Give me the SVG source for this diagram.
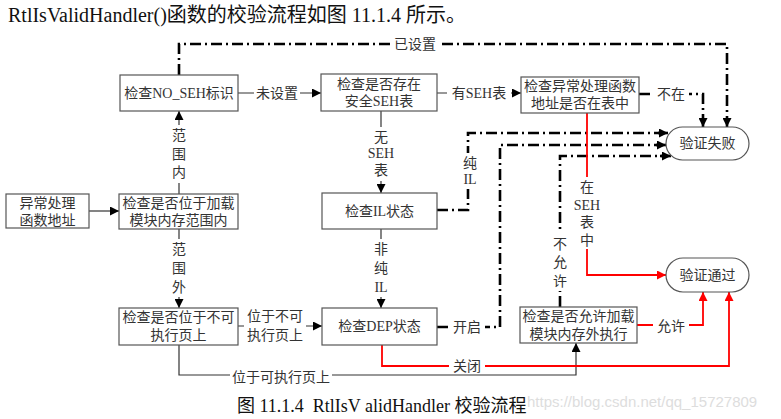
<svg xmlns="http://www.w3.org/2000/svg" width="781" height="419" viewBox="0 0 781 419">
<style>
text{font-family:"Liberation Serif","Noto Sans CJK SC",serif;fill:#333;}
.t{font-size:14px;text-anchor:middle;dominant-baseline:central;}
.box{fill:#fff;stroke:#555;stroke-width:1.2;}
.solid{fill:none;stroke:#333;stroke-width:1.2;}
.dd{fill:none;stroke:#000;stroke-width:2.6;stroke-dasharray:11 4 2 4;}
.red{fill:none;stroke:#f00;stroke-width:1.8;}
.bg{fill:#fff;stroke:none;}
</style>
<defs>
<marker id="ab" viewBox="0 0 10 10" refX="10" refY="5" markerWidth="9" markerHeight="9" markerUnits="userSpaceOnUse" orient="auto"><path d="M0,0 L10,5 L0,10 z" fill="#000"/></marker>
<marker id="ar" viewBox="0 0 10 10" refX="10" refY="5" markerWidth="9" markerHeight="9" markerUnits="userSpaceOnUse" orient="auto"><path d="M0,0 L10,5 L0,10 z" fill="#f00"/></marker>
</defs>

<text x="8" y="22" style="font-size:20px;fill:#111">RtlIsValidHandler()函数的校验流程如图 11.1.4 所示。</text>

<g id="connectors">
  <!-- solid gray -->
  <path class="solid" d="M89,211 H119" marker-end="url(#ab)"/>
  <path class="solid" d="M179,194 V111" marker-end="url(#ab)"/>
  <path class="solid" d="M179,229 V308" marker-end="url(#ab)"/>
  <path class="solid" d="M238,93 H321" marker-end="url(#ab)"/>
  <path class="solid" d="M437,93 H521" marker-end="url(#ab)"/>
  <path class="solid" d="M381,111 V193" marker-end="url(#ab)"/>
  <path class="solid" d="M381,229 V308" marker-end="url(#ab)"/>
  <path class="solid" d="M238,326 H322" marker-end="url(#ab)"/>
  <path class="solid" d="M179,345 V375 H576 V343" marker-end="url(#ab)"/>
  <!-- dash-dot black -->
  <path class="dd" d="M179,75 V44 H727 V119"/>
  <path d="M727,118 V127" stroke="#000" stroke-width="2.6" marker-end="url(#ab)"/>
  <path class="dd" d="M639,94 H703 V119"/>
  <path d="M703,118 V127" stroke="#000" stroke-width="2.6" marker-end="url(#ab)"/>
  <path class="dd" d="M437,210 H468 V133 H660"/>
  <path d="M658,133 H668" stroke="#000" stroke-width="2.6" marker-end="url(#ab)"/>
  <path class="dd" d="M437,327 H500 V145 H658"/>
  <path d="M656,145 H666" stroke="#000" stroke-width="2.6" marker-end="url(#ab)"/>
  <path class="dd" d="M560,307 V156 H662"/>
  <path d="M660,156 H671" stroke="#000" stroke-width="2.6" marker-end="url(#ab)"/>
  <!-- red -->
  <path class="red" d="M587,113 V275 H666" marker-end="url(#ar)"/>
  <path class="red" d="M637,325 H703 V292" marker-end="url(#ar)"/>
  <path class="red" d="M382,345 V366 H729 V292" marker-end="url(#ar)"/>

  <!-- labels -->
  <rect class="bg" x="171" y="125" width="16" height="58"/>
  <text class="t" x="179" y="135">范</text><text class="t" x="179" y="154">围</text><text class="t" x="179" y="172">内</text>
  <rect class="bg" x="171" y="239" width="16" height="58"/>
  <text class="t" x="179" y="249">范</text><text class="t" x="179" y="268">围</text><text class="t" x="179" y="287">外</text>
  <rect class="bg" x="254" y="85" width="46" height="16"/>
  <text class="t" x="277" y="93">未设置</text>
  <rect class="bg" x="447" y="85" width="64" height="16"/>
  <text class="t" x="479" y="93">有SEH表</text>
  <rect class="bg" x="368" y="127" width="26" height="54"/>
  <text class="t" x="381" y="137">无</text><text class="t" x="381" y="153">SEH</text><text class="t" x="381" y="170">表</text>
  <rect class="bg" x="370" y="239" width="22" height="58"/>
  <text class="t" x="381" y="249">非</text><text class="t" x="381" y="268">纯</text><text class="t" x="381" y="287">IL</text>
  <rect class="bg" x="244" y="306" width="62" height="40"/>
  <text class="t" x="275" y="316">位于不可</text><text class="t" x="275" y="335">执行页上</text>
  <rect class="bg" x="230" y="367" width="102" height="17"/>
  <text class="t" x="281" y="377">位于可执行页上</text>
  <rect class="bg" x="390" y="36" width="50" height="16"/>
  <text class="t" x="415" y="44">已设置</text>
  <rect class="bg" x="653" y="86" width="36" height="16"/>
  <text class="t" x="671" y="94">不在</text>
  <rect class="bg" x="458" y="153" width="22" height="36"/>
  <text class="t" x="470" y="163">纯</text><text class="t" x="470" y="179">IL</text>
  <rect class="bg" x="449" y="319" width="36" height="16"/>
  <text class="t" x="467" y="327">开启</text>
  <rect class="bg" x="551" y="233" width="18" height="58"/>
  <text class="t" x="560" y="244">不</text><text class="t" x="560" y="262">允</text><text class="t" x="560" y="281">许</text>
  <rect class="bg" x="573" y="177" width="28" height="72"/>
  <text class="t" x="587" y="187">在</text><text class="t" x="587" y="205">SEH</text><text class="t" x="587" y="222">表</text><text class="t" x="587" y="240">中</text>
  <rect class="bg" x="653" y="318" width="36" height="16"/>
  <text class="t" x="671" y="326">允许</text>
  <rect class="bg" x="449" y="358" width="36" height="16"/>
  <text class="t" x="467" y="366">关闭</text>
</g>

<g id="n_addr"><rect class="box" x="6" y="194" width="83" height="34"/>
  <text class="t" x="47.5" y="203">异常处理</text><text class="t" x="47.5" y="220">函数地址</text></g>
<g id="n_range"><rect class="box" x="119" y="194" width="119" height="35"/>
  <text class="t" x="178.5" y="203">检查是否位于加载</text><text class="t" x="178.5" y="220">模块内存范围内</text></g>
<g id="n_noseh"><rect class="box" x="120" y="75" width="118" height="36"/>
  <text class="t" x="179" y="93">检查NO_SEH标识</text></g>
<g id="n_safeseh"><rect class="box" x="321" y="74" width="116" height="37"/>
  <text class="t" x="379" y="84">检查是否存在</text><text class="t" x="379" y="101">安全SEH表</text></g>
<g id="n_intable"><rect class="box" x="521" y="77" width="118" height="36"/>
  <text class="t" x="580" y="86">检查异常处理函数</text><text class="t" x="580" y="103">地址是否在表中</text></g>
<g id="n_fail"><rect class="box" x="666" y="127" width="83" height="33" rx="16.5"/>
  <text class="t" x="707.5" y="143.5">验证失败</text></g>
<g id="n_il"><rect class="box" x="322" y="193" width="115" height="36"/>
  <text class="t" x="379.5" y="211">检查IL状态</text></g>
<g id="n_pass"><rect class="box" x="666" y="258" width="83" height="34" rx="17"/>
  <text class="t" x="707.5" y="275">验证通过</text></g>
<g id="n_nx"><rect class="box" x="119" y="308" width="119" height="37"/>
  <text class="t" x="178.5" y="317">检查是否位于不可</text><text class="t" x="178.5" y="335">执行页上</text></g>
<g id="n_dep"><rect class="box" x="322" y="308" width="115" height="37"/>
  <text class="t" x="379.5" y="326.5">检查DEP状态</text></g>
<g id="n_allow"><rect class="box" x="520" y="307" width="117" height="36"/>
  <text class="t" x="578.5" y="316">检查是否允许加载</text><text class="t" x="578.5" y="334">模块内存外执行</text></g>

<text x="237" y="412" style="font-size:18px;fill:#111;white-space:pre">图 11.1.4  RtlIsV alidHandler 校验流程</text>
<text x="527" y="407" style="font-family:'Liberation Sans',sans-serif;font-size:15px;fill:#ddd">https://blog.csdn.net/qq_15727809</text>
</svg>
